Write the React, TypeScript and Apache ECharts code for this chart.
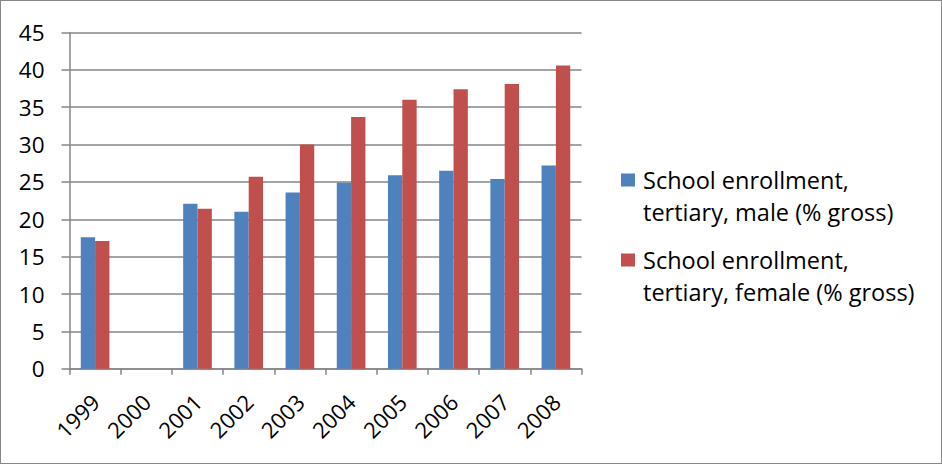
import React, { useEffect, useRef } from "react";
import * as echarts from "echarts";

const years = ["1999", "2000", "2001", "2002", "2003", "2004", "2005", "2006", "2007", "2008"];
const maleEnrollment: (number | null)[] = [17.6, null, 22.1, 21.0, 23.6, 24.9, 25.9, 26.5, 25.4, 27.2];
const femaleEnrollment: (number | null)[] = [17.1, null, 21.4, 25.7, 30.0, 33.7, 36.0, 37.4, 38.1, 40.6];
const seriesNames = [
  "School enrollment, tertiary, male (% gross)",
  "School enrollment, tertiary, female (% gross)",
];
const legendLines = [
  ["School enrollment,", "tertiary, male (% gross)"],
  ["School enrollment,", "tertiary, female (% gross)"],
];
const colors = ["#4F81BD", "#C0504D"];

const FONT = "'Open Sans', sans-serif";

export default function App() {
  const ref = useRef<HTMLDivElement>(null);

  useEffect(() => {
    if (!ref.current) return;
    const chart = echarts.init(ref.current, undefined, { renderer: "svg" });
    const legendGraphics = legendLines.map((lines, i) => ({
      type: "group",
      left: 620,
      top: 162.5 + i * 80,
      children: [
        {
          type: "rect",
          shape: { x: 0, y: 10, width: 14, height: 13 },
          style: { fill: colors[i] },
        },
        {
          type: "text",
          x: 22,
          y: 0,
          style: {
            text: lines.join("\n"),
            font: `23.5px ${FONT}`,
            fill: "#000",
            lineHeight: 32,
          },
        },
      ],
    }));

    chart.setOption({
      animation: false,
      textStyle: { fontFamily: FONT },
      grid: { left: 68.5, right: 358.5, top: 31.5, bottom: 93.2 },
      xAxis: {
        type: "category",
        data: years,
        axisLine: { lineStyle: { color: "#868686", width: 1.5 } },
        axisTick: { show: true, length: 6, lineStyle: { color: "#868686", width: 1.5 } },
        axisLabel: {
          rotate: 45,
          fontSize: 22,
          color: "#000",
          fontFamily: FONT,
          margin: 29,
        },
      },
      yAxis: {
        type: "value",
        min: 0,
        max: 45,
        interval: 5,
        axisLine: { show: true, lineStyle: { color: "#868686", width: 1.5 } },
        axisTick: { show: true, length: 8, lineStyle: { color: "#868686", width: 1.5 } },
        axisLabel: { fontSize: 22.5, color: "#000", fontFamily: FONT, margin: 25 },
        splitLine: { lineStyle: { color: "#868686", width: 1.5 } },
      },
      series: [
        {
          name: seriesNames[0],
          type: "bar",
          data: maleEnrollment,
          itemStyle: { color: colors[0] },
          barGap: "0%",
          barCategoryGap: "44%",
        },
        {
          name: seriesNames[1],
          type: "bar",
          data: femaleEnrollment,
          itemStyle: { color: colors[1] },
          barGap: "0%",
          barCategoryGap: "44%",
        },
      ],
      graphic: legendGraphics,
    });
    return () => chart.dispose();
  }, []);

  return (
    <div
      style={{
        position: "absolute",
        left: 0,
        top: 0,
        width: 942,
        height: 464,
        boxSizing: "border-box",
        border: "1.5px solid #868686",
        background: "#fff",
      }}
    >
      <div ref={ref} style={{ width: 939, height: 461 }} />
    </div>
  );
}
